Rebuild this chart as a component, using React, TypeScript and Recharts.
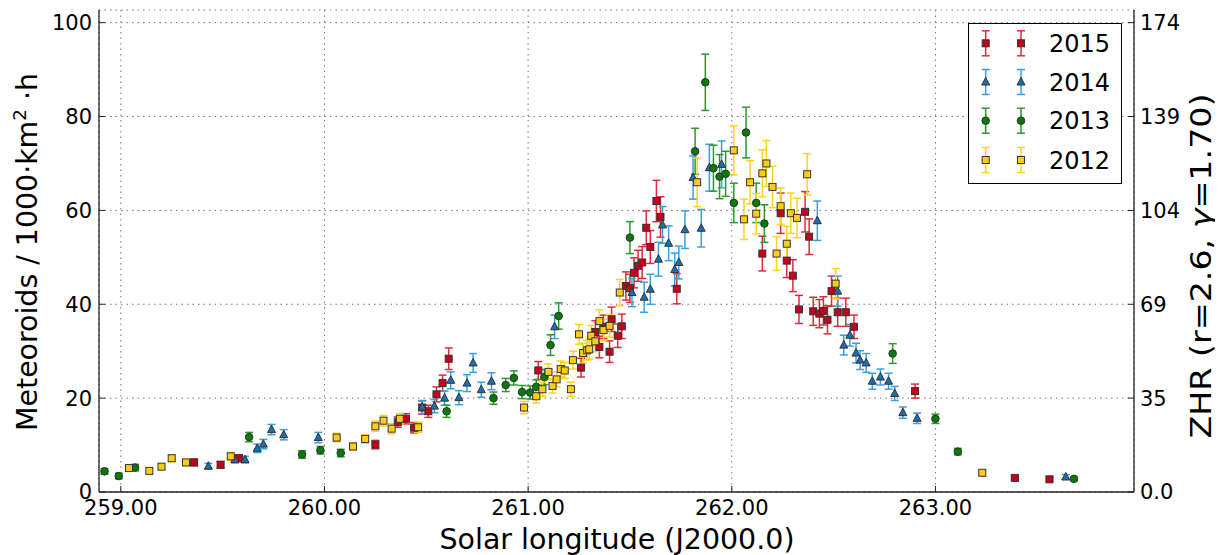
import React from 'react';
import { ScatterChart, Scatter, XAxis, YAxis, CartesianGrid, ErrorBar, Legend, Label } from 'recharts';

// [solar longitude, meteoroids/1000km^2 h, error]
const s2015: number[][] = [
  [259.36, 6.3, 0.7], [259.49, 5.8, 0.7], [259.58, 7.2, 0.7], [260.25, 10.1, 0.9], [260.36, 14.9, 1.1],
  [260.40, 15.6, 1.1], [260.44, 13.7, 1.1], [260.48, 18.0, 1.4], [260.51, 17.2, 1.3], [260.55, 20.8, 1.6],
  [260.58, 23.2, 1.7], [260.61, 28.4, 2.3], [261.05, 25.9, 1.9], [261.26, 26.5, 2.0], [261.33, 34.1, 2.4],
  [261.35, 30.9, 2.3], [261.37, 35.2, 2.5], [261.40, 29.9, 2.3], [261.41, 36.8, 2.6], [261.44, 33.3, 2.5],
  [261.46, 35.3, 2.6], [261.48, 43.9, 3.0], [261.50, 43.4, 3.0], [261.52, 46.7, 3.2], [261.54, 48.2, 3.3],
  [261.56, 48.9, 3.4], [261.58, 56.3, 3.6], [261.60, 52.2, 3.5], [261.63, 62.0, 4.4], [261.65, 58.6, 4.3],
  [261.73, 43.3, 3.2], [262.15, 50.8, 3.7], [262.24, 59.4, 4.3], [262.27, 49.3, 3.6], [262.30, 46.1, 3.4],
  [262.33, 38.9, 3.0], [262.36, 59.7, 4.3], [262.38, 54.4, 3.8], [262.40, 38.5, 3.0], [262.43, 38.0, 3.0],
  [262.45, 38.6, 3.0], [262.47, 36.7, 3.0], [262.49, 42.8, 3.2], [262.52, 38.3, 3.0], [262.56, 38.3, 3.0],
  [262.60, 35.2, 2.5], [262.90, 21.5, 1.5], [263.39, 3.0, 0.4], [263.56, 2.7, 0.4],
];

const s2014: number[][] = [
  [259.43, 5.5, 0.6], [259.56, 6.9, 0.7], [259.61, 6.9, 0.7], [259.67, 9.3, 0.9], [259.70, 10.2, 1.0],
  [259.74, 13.3, 1.1], [259.80, 12.2, 1.1], [259.97, 11.6, 1.1], [260.48, 18.1, 1.4], [260.54, 18.3, 1.4],
  [260.59, 20.0, 1.5], [260.62, 23.8, 1.8], [260.66, 20.1, 1.5], [260.70, 23.2, 1.8], [260.73, 27.5, 2.0],
  [260.77, 21.8, 1.6], [260.82, 23.6, 1.8], [261.13, 35.2, 2.5], [261.51, 42.5, 3.0], [261.57, 41.5, 3.2],
  [261.60, 43.2, 3.2], [261.64, 49.6, 3.6], [261.66, 56.9, 3.9], [261.69, 53.0, 3.7], [261.72, 47.4, 3.5],
  [261.74, 48.9, 3.5], [261.77, 55.9, 4.0], [261.81, 67.0, 4.6], [261.85, 56.2, 4.0], [261.89, 69.1, 5.0],
  [261.95, 69.8, 5.0], [262.42, 57.8, 4.2], [262.52, 42.8, 3.2], [262.55, 31.3, 2.1], [262.58, 33.4, 2.3],
  [262.61, 29.6, 2.1], [262.63, 28.1, 2.0], [262.66, 27.5, 2.0], [262.69, 23.6, 1.7], [262.73, 24.5, 1.7],
  [262.77, 23.6, 1.7], [262.80, 21.0, 1.5], [262.84, 16.9, 1.2], [262.91, 15.7, 1.1], [263.64, 3.2, 0.5],
];

const s2013: number[][] = [
  [258.92, 4.4, 0.6], [258.99, 3.4, 0.6], [259.07, 5.2, 0.7], [259.63, 11.7, 1.0], [259.89, 8.0, 0.8],
  [259.98, 8.9, 0.8], [260.08, 8.3, 0.8], [260.60, 17.2, 1.3], [260.83, 20.0, 1.3], [260.89, 22.8, 1.4],
  [260.93, 24.3, 1.5], [260.97, 21.3, 1.4], [261.01, 21.2, 1.4], [261.04, 22.4, 1.5], [261.08, 24.5, 1.6],
  [261.11, 31.3, 2.2], [261.15, 37.5, 2.8], [261.50, 54.2, 3.4], [261.82, 72.6, 4.9], [261.87, 87.3, 6.0],
  [261.91, 69.0, 4.9], [261.94, 67.2, 4.7], [261.97, 67.8, 4.8], [262.01, 61.6, 4.2], [262.07, 76.6, 5.4],
  [262.12, 61.6, 4.2], [262.16, 57.2, 4.0], [262.79, 29.5, 2.1], [263.00, 15.6, 1.0], [263.11, 8.6, 0.7],
  [263.68, 2.8, 0.4],
];

const s2012: number[][] = [
  [259.04, 5.1, 0.6], [259.14, 4.5, 0.6], [259.20, 5.4, 0.6], [259.25, 7.2, 0.7], [259.32, 6.3, 0.7],
  [259.54, 7.6, 0.8], [260.06, 11.6, 0.9], [260.14, 9.7, 0.8], [260.20, 11.3, 0.9], [260.25, 14.0, 1.1],
  [260.29, 15.2, 1.1], [260.33, 13.5, 1.1], [260.37, 15.6, 1.1], [260.46, 13.8, 1.1], [260.98, 18.0, 1.3],
  [261.04, 20.4, 1.4], [261.07, 21.9, 1.5], [261.10, 25.6, 1.7], [261.12, 22.6, 1.5], [261.14, 24.0, 1.6],
  [261.16, 26.2, 1.7], [261.18, 25.9, 1.7], [261.21, 21.9, 1.5], [261.22, 28.1, 1.9], [261.25, 33.6, 2.1],
  [261.27, 29.6, 2.1], [261.29, 30.2, 2.1], [261.30, 30.4, 2.1], [261.31, 33.3, 2.2], [261.33, 32.1, 2.2],
  [261.35, 36.4, 2.4], [261.37, 34.5, 2.3], [261.40, 35.4, 2.4], [261.45, 42.5, 2.8], [261.83, 66.0, 5.2],
  [262.01, 72.8, 5.2], [262.06, 58.1, 4.3], [262.09, 66.0, 4.6], [262.12, 59.3, 4.3], [262.15, 67.9, 5.0],
  [262.17, 70.0, 4.9], [262.20, 65.0, 4.4], [262.22, 50.8, 3.6], [262.24, 60.9, 3.9], [262.27, 52.9, 3.7],
  [262.29, 59.4, 4.3], [262.32, 58.4, 4.2], [262.37, 67.7, 4.4], [262.51, 44.4, 3.2], [263.23, 4.1, 0.4],
];

const xTicks = [259, 260, 261, 262, 263];
const yTicks = [0, 20, 40, 60, 80, 100];
const zhrLabels = ['0.0', '35', '69', '104', '139', '174'];
const xDomain: [number, number] = [258.893, 263.975];
const yDomain: [number, number] = [0, 102.7];

const toPts = (arr: number[][]) => arr.map(([x, y, e]) => ({ x, y, e }));

type Kind = 'square' | 'triangle' | 'circle';
const EDGE = '#333333';

function marker(kind: Kind, fill: string, cx: number, cy: number, key?: string | number) {
  if (kind === 'square') {
    return <rect key={key} x={cx - 3.5} y={cy - 3.5} width={7} height={7} fill={fill} stroke={EDGE} strokeWidth={1} />;
  }
  if (kind === 'triangle') {
    return (
      <polygon
        key={key}
        points={`${cx},${cy - 4.5} ${cx - 4},${cy + 3} ${cx + 4},${cy + 3}`}
        fill={fill}
        stroke={EDGE}
        strokeWidth={1}
      />
    );
  }
  return <circle key={key} cx={cx} cy={cy} r={3.8} fill={fill} stroke={EDGE} strokeWidth={1} />;
}

const shapeFor = (kind: Kind, fill: string) => (props: any) => {
  const { cx, cy } = props;
  if (cx == null || cy == null) return <g />;
  return marker(kind, fill, cx, cy);
};

const seriesDefs = [
  { name: '2015', data: s2015, kind: 'square' as Kind, fill: '#c4001c', bar: '#dd2c3a' },
  { name: '2014', data: s2014, kind: 'triangle' as Kind, fill: '#1b6fb0', bar: '#3a9fe0' },
  { name: '2013', data: s2013, kind: 'circle' as Kind, fill: '#077a07', bar: '#2a9a2a' },
  { name: '2012', data: s2012, kind: 'square' as Kind, fill: '#ffcc1a', bar: '#ffd21f' },
];

const FONT = 'DejaVu Sans';

const LegendBox = () => {
  const rowY = [20.3, 59, 97.7, 137];
  const mx = [17.7, 53];
  return (
    <svg width={154} height={161} style={{ display: 'block' }}>
      <rect x={0.5} y={0.5} width={153} height={160} fill="#fff" stroke="#000" strokeWidth={1} />
      {seriesDefs.map((s, i) => (
        <g key={s.name}>
          {mx.map((x, j) => (
            <g key={j}>
              <line x1={x} x2={x} y1={rowY[i] - 12.5} y2={rowY[i] + 12.5} stroke={s.bar} strokeWidth={1.5} />
              <line x1={x - 4} x2={x + 4} y1={rowY[i] - 12.5} y2={rowY[i] - 12.5} stroke={s.bar} strokeWidth={1.5} />
              <line x1={x - 4} x2={x + 4} y1={rowY[i] + 12.5} y2={rowY[i] + 12.5} stroke={s.bar} strokeWidth={1.5} />
              {marker(s.kind, s.fill, x, rowY[i])}
            </g>
          ))}
          <text x={81} y={rowY[i] + 8.7} fontSize={24} fontFamily={FONT} fill="#000">
            {s.name}
          </text>
        </g>
      ))}
    </svg>
  );
};

export default function App() {
  return (
    <div style={{ width: 1215, height: 547, fontFamily: FONT }}>
      <ScatterChart width={1215} height={547} margin={{ top: 2, right: 29, bottom: 13, left: 21 }}>
        <CartesianGrid stroke="#777" strokeDasharray="1.5 4" strokeWidth={1} />
        <XAxis
          type="number"
          dataKey="x"
          domain={xDomain}
          ticks={xTicks}
          allowDataOverflow
          tickFormatter={(v: number) => v.toFixed(2)}
          height={50}
          tickSize={-6}
          tickMargin={14}
          tick={{ fontSize: 21, fill: '#000', fontFamily: FONT }}
          stroke="#222"
          axisLine={{ stroke: '#222', strokeWidth: 1.3 }}
          tickLine={{ stroke: '#222', strokeWidth: 1 }}
        >
          <Label
            content={() => (
              <text
                x={609}
                y={541}
                textAnchor="middle"
                fontSize={28}
                fontFamily={FONT}
                fill="#000"
                textLength={355}
                lengthAdjust="spacingAndGlyphs"
              >
                Solar longitude (J2000.0)
              </text>
            )}
          />
        </XAxis>
        <XAxis
          xAxisId="top"
          orientation="top"
          type="number"
          dataKey="x"
          domain={xDomain}
          ticks={xTicks}
          allowDataOverflow
          height={0}
          tick={false}
          tickSize={-6}
          axisLine={{ stroke: '#222', strokeWidth: 1.3 }}
          tickLine={{ stroke: '#222', strokeWidth: 1 }}
        />
        <YAxis
          type="number"
          dataKey="y"
          domain={yDomain}
          ticks={yTicks}
          allowDataOverflow
          width={70}
          tickSize={-6}
          tickMargin={13}
          tick={{ fontSize: 21, fill: '#000', fontFamily: FONT }}
          axisLine={{ stroke: '#222', strokeWidth: 1.3 }}
          tickLine={{ stroke: '#222', strokeWidth: 1 }}
        >
          <Label
            content={() => (
              <text
                transform="translate(29, 244) rotate(-90)"
                textAnchor="middle"
                fontSize={28}
                fontFamily={FONT}
                fill="#000"
                textLength={358}
                lengthAdjust="spacingAndGlyphs"
              >
                Meteoroids / 1000·km
                <tspan dy={-11} fontSize={18}>2</tspan>
                <tspan dy={11}> ·h</tspan>
              </text>
            )}
          />
        </YAxis>
        <YAxis
          yAxisId="right"
          orientation="right"
          type="number"
          domain={yDomain}
          ticks={yTicks}
          allowDataOverflow
          width={60}
          tickSize={-6}
          tickMargin={12}
          tickFormatter={(v: number) => zhrLabels[yTicks.indexOf(v)] ?? ''}
          tick={{ fontSize: 21, fill: '#000', fontFamily: FONT }}
          axisLine={{ stroke: '#222', strokeWidth: 1.3 }}
          tickLine={{ stroke: '#222', strokeWidth: 1 }}
        >
          <Label
            content={() => (
              <text
                transform="translate(1203, 258) rotate(-90)"
                textAnchor="middle"
                fontSize={28}
                fontFamily={FONT}
                fill="#000"
                textLength={345}
                lengthAdjust="spacingAndGlyphs"
              >
                ZHR (r=2.6, <tspan fontStyle="italic">γ</tspan>=1.70)
              </text>
            )}
          />
        </YAxis>
        {seriesDefs.map((s) => (
          <Scatter
            key={s.name}
            name={s.name}
            data={toPts(s.data)}
            shape={shapeFor(s.kind, s.fill)}
            isAnimationActive={false}
          >
            <ErrorBar dataKey="e" direction="y" width={4} stroke={s.bar} strokeWidth={1.5} />
          </Scatter>
        ))}
        <Legend
          layout="horizontal"
          verticalAlign="middle"
          align="center"
          wrapperStyle={{ left: 960, top: 15, width: 154, height: 161 }}
          content={() => <LegendBox />}
        />
      </ScatterChart>
    </div>
  );
}
